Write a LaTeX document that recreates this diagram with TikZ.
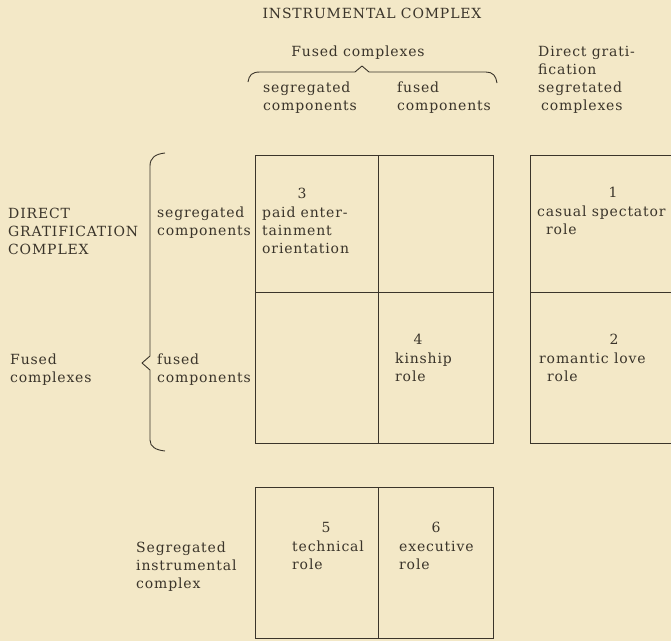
\documentclass[tikz,border=0pt]{standalone}
\usepackage{fontspec}
\setmainfont[LetterSpace=6]{DejaVu Serif}
\definecolor{paper}{RGB}{243,232,199}
\definecolor{ink}{RGB}{58,52,42}
% left-aligned block whose reference point is the first baseline
\newcommand{\stack}[1]{\begin{tabular}[t]{@{}l@{}}#1\end{tabular}}
\begin{document}
\begin{tikzpicture}[x=1pt,y=-1pt,
  every node/.style={font=\fontsize{14}{18.3}\selectfont,text=ink,inner sep=0pt},
  cell/.style={draw=ink,line width=1.1pt,anchor=north west},
  lbl/.style={anchor=base west},
  num/.style={anchor=base},
  brace/.style={draw=ink,line width=0.9pt,line join=round}]
\fill[paper] (0,0) rectangle (671,641);
\useasboundingbox (0,0) rectangle (671,641);

% main 2x2 grid
\node[cell,minimum width=123pt,minimum height=137pt] (c3) at (255,155) {};
\node[cell,minimum width=115pt,minimum height=137pt] (ctr) at (378,155) {};
\node[cell,minimum width=123pt,minimum height=151pt] (cbl) at (255,292) {};
\node[cell,minimum width=115pt,minimum height=151pt] (c4) at (378,292) {};
% right column (runs past the right margin)
\node[cell,minimum width=160pt,minimum height=137pt] (c1) at (530,155) {};
\node[cell,minimum width=160pt,minimum height=151pt] (c2) at (530,292) {};
% bottom row
\node[cell,minimum width=123pt,minimum height=151pt] (c5) at (255,487) {};
\node[cell,minimum width=115pt,minimum height=151pt] (c6) at (378,487) {};

% headings
\node[anchor=base] (ic) at (372,18) {INSTRUMENTAL COMPLEX};
\node[anchor=base] (fc) at (358,56) {Fused complexes};
\node[lbl] (sc) at (263,92) {\stack{segregated\\components}};
\node[lbl] (fcomp) at (397,92) {\stack{fused\\components}};
\node[lbl] (dg) at (538,56) {\stack{Direct grati-\\fication\\segretated\\\hspace{3pt}complexes}};

% row labels
\node[lbl] (dgc) at (8,218) {\stack{DIRECT\\GRATIFICATION\\COMPLEX}};
\node[lbl] (rsc) at (157,217) {\stack{segregated\\components}};
\node[lbl] (rfc) at (10,364) {\stack{Fused\\complexes}};
\node[lbl] (rfcomp) at (157,364) {\stack{fused\\components}};
\node[lbl] (sic) at (136,552) {\stack{Segregated\\instrumental\\complex}};

% cell contents
\node[num] (n3) at (302,198) {3};
\node[lbl] (t3) at (262,217) {\stack{paid enter-\\tainment\\orientation}};
\node[num] (n4) at (418,344) {4};
\node[lbl] (t4) at (395,363) {\stack{kinship\\role}};
\node[num] (n1) at (613,197) {1};
\node[lbl] (t1) at (537,216) {\stack{casual spectator\\\hspace{9pt}role}};
\node[num] (n2) at (614,344) {2};
\node[lbl] (t2) at (539,363) {\stack{romantic love\\\hspace{8pt}role}};
\node[num] (n5) at (326,532) {5};
\node[lbl] (t5) at (292,551) {\stack{technical\\role}};
\node[num] (n6) at (436,532) {6};
\node[lbl] (t6) at (399,551) {\stack{executive\\role}};

% brace over the two fused-complex columns
\draw[brace] (248,82) .. controls (249,75) and (252,72) .. (260,72)
  -- (355,72) -- (362,66) -- (369,72) -- (486,72)
  .. controls (493,72) and (496,76) .. (497,83);
% brace beside the two direct-gratification rows
\draw[brace] (165,153) .. controls (155,154) and (150,158) .. (150,166)
  -- (150,356) -- (142,363) -- (150,370) -- (150,440)
  .. controls (150,447) and (156,450) .. (165,451);
\end{tikzpicture}
\end{document}
